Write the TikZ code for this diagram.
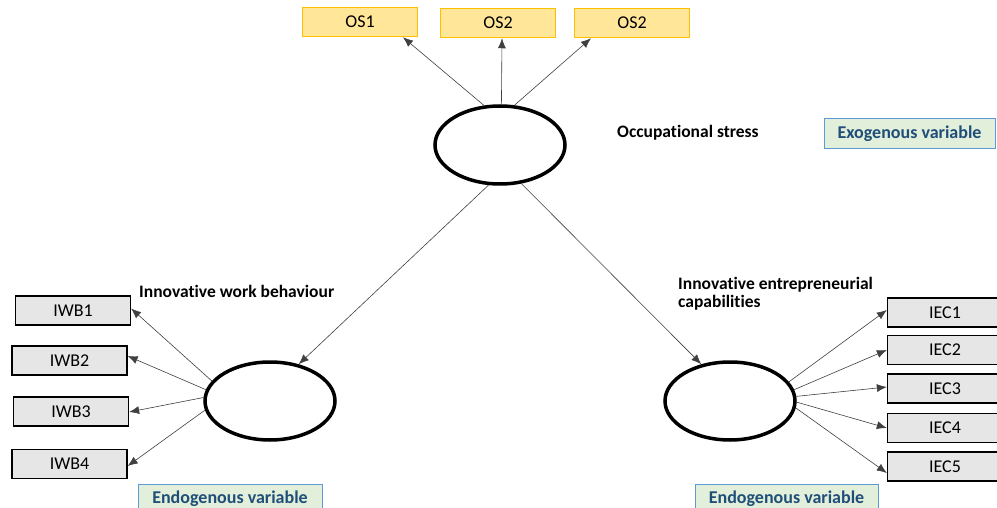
\documentclass[tikz,border=0pt]{standalone}
\usepackage{fontspec}
\setmainfont{Carlito}[Ligatures=NoCommon]
\usetikzlibrary{arrows.meta,shapes.geometric}
\definecolor{osfill}{HTML}{FFE699}
\definecolor{osline}{HTML}{FFC000}
\definecolor{grayfill}{HTML}{E7E6E6}
\definecolor{greenfill}{HTML}{E2EFDA}
\definecolor{blueline}{HTML}{5B9BD5}
\definecolor{bluetext}{HTML}{1F4E79}
\begin{document}
\begin{tikzpicture}[x=1pt,y=-1pt,
  every node/.style={font=\fontsize{18}{20}\selectfont, inner sep=0pt},
  osbox/.style={draw=osline, fill=osfill, line width=1.5pt, minimum width=115pt, minimum height=29pt},
  indbox/.style={draw=black, fill=grayfill, line width=1.3pt, minimum width=115pt, minimum height=29pt},
  varbox/.style={draw=blueline, fill=greenfill, line width=1pt, minimum height=30pt, text=bluetext, font=\fontsize{18}{20}\selectfont\bfseries},
  latent/.style={draw=black, ellipse, line width=3.5pt, minimum width=130pt, minimum height=78pt},
  lbl/.style={font=\fontsize{17.5}{18}\selectfont\bfseries, align=left, anchor=west},
  arr/.style={-{Latex[length=10pt,width=8pt]}, line width=0.6pt, draw=black!75}
]
\useasboundingbox (0,0) rectangle (997,508);
\fill[white] (0,0) rectangle (997,508);

% latent variables
\node[latent] (os) at (500,145) {};
\node[latent] (iwb) at (270,401) {};
\node[latent] (iec) at (730,401) {};

% OS indicators
\node[osbox] (os1) at (360,22) {OS1};
\node[osbox] (os2) at (498,23) {OS2};
\node[osbox] (os3) at (632,23) {OS2};

% IWB indicators
\node[indbox] (iwb1) at (73,310.5) {IWB1};
\node[indbox] (iwb2) at (69.5,360.5) {IWB2};
\node[indbox] (iwb3) at (71,411.5) {IWB3};
\node[indbox] (iwb4) at (69.5,464) {IWB4};

% IEC indicators
\node[indbox] (iec1) at (945,312.5) {IEC1};
\node[indbox] (iec2) at (945,350) {IEC2};
\node[indbox] (iec3) at (945,388.5) {IEC3};
\node[indbox] (iec4) at (945,428) {IEC4};
\node[indbox] (iec5) at (945,466.5) {IEC5};

% labels
\node[lbl] (lblos) at (617,133) {Occupational stress};
\node[lbl] (lbliwb) at (139,291) {Innovative work behaviour};
\node[lbl] (lbliec) at (678,294) {Innovative entrepreneurial\\capabilities};

% variable type boxes
\node[varbox, minimum width=171pt] (exo) at (909.5,134) {Exogenous variable};
\node[varbox, minimum width=184pt] (endo1) at (230,499) {\raisebox{2pt}{Endogenous variable}};
\node[varbox, minimum width=183pt] (endo2) at (786.5,499) {\raisebox{2pt}{Endogenous variable}};

% arrows OS
\draw[arr] (os.112) -- ([xshift=43pt]os1.south);
\draw[arr] (os.88) -- ([xshift=4pt]os2.south);
\draw[arr] (os.70) -- ([xshift=-41pt]os3.south);

% structural
\draw[arr] (os.254) -- (iwb.52);
\draw[arr] (os.299) -- (iec.128);

% IWB arrows
\draw[arr] (iwb.161) -- ([yshift=2pt]iwb1.east);
\draw[arr] (iwb.170) -- ([yshift=4.5pt]iwb2.east);
\draw[arr] (iwb.177) -- ([yshift=-0.5pt]iwb3.east);
\draw[arr] (iwb.188) -- ([yshift=-2pt]iwb4.east);

% IEC arrows
\draw[arr] (iec.18) -- ([yshift=2.5pt]iec1.west);
\draw[arr] (iec.10) -- (iec2.west);
\draw[arr] (iec.4) -- ([yshift=1.5pt]iec3.west);
\draw[arr] (iec.-1) -- (iec4.west);
\draw[arr] (iec.-6) -- ([yshift=-6.5pt]iec5.west);
\end{tikzpicture}
\end{document}
